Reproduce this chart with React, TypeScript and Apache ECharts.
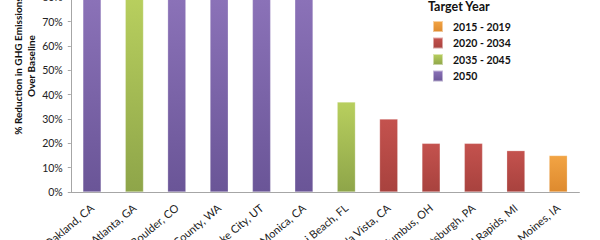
import React, { useEffect, useRef } from "react";
import * as echarts from "echarts";

const cities = [
  "Oakland, CA",
  "Atlanta, GA",
  "Boulder, CO",
  "King County, WA",
  "Salt Lake City, UT",
  "Santa Monica, CA",
  "Miami Beach, FL",
  "Chula Vista, CA",
  "Columbus, OH",
  "Pittsburgh, PA",
  "Grand Rapids, MI",
  "Des Moines, IA",
];
const reduction = [80, 80, 80, 80, 80, 80, 37, 30, 20, 20, 17, 15];
const targetGroup = [
  "2050",
  "2035 - 2045",
  "2050",
  "2050",
  "2050",
  "2050",
  "2035 - 2045",
  "2020 - 2034",
  "2020 - 2034",
  "2020 - 2034",
  "2020 - 2034",
  "2015 - 2019",
];
const groups = ["2015 - 2019", "2020 - 2034", "2035 - 2045", "2050"];
const groupColors: Record<string, [string, string]> = {
  "2015 - 2019": ["#f2a444", "#de8a2e"],
  "2020 - 2034": ["#c4524e", "#a8423e"],
  "2035 - 2045": ["#b8cf5e", "#8ea549"],
  "2050": ["#8b72b8", "#6a5597"],
};
const yTicks = [0, 10, 20, 30, 40, 50, 60, 70, 80, 90, 100];

const FONT = "Lato, 'Open Sans', sans-serif";
const OFF = 60; // chart canvas extends above the visible frame (reference is cropped)

export default function App() {
  const ref = useRef<HTMLDivElement>(null);
  useEffect(() => {
    document.body.style.margin = "0";
    if (!ref.current) return;
    const chart = echarts.init(ref.current, undefined, { renderer: "svg" });
    const grad = (g: string) =>
      new echarts.graphic.LinearGradient(0, 0, 0, 1, [
        { offset: 0, color: groupColors[g][0] },
        { offset: 1, color: groupColors[g][1] },
      ]);
    const series = groups.map((g) => ({
      name: g,
      type: "bar",
      stack: "all",
      barWidth: "43%",
      itemStyle: { color: grad(g), borderColor: "rgba(255,255,255,0.5)", borderWidth: 0.5 },
      data: reduction.map((v, i) => (targetGroup[i] === g ? v : "-")),
    }));
    chart.setOption({
      animation: false,
      grid: {
        left: 70.8,
        right: 20.6,
        top: OFF - 51.3,
        bottom: 48,
        containLabel: false,
        outerBoundsMode: "none",
      },
      legend: {
        orient: "vertical",
        left: 427,
        top: OFF + 15,
        itemWidth: 10,
        itemHeight: 11,
        itemGap: 3.5,
        icon: "rect",
        data: groups,
        textStyle: { fontFamily: FONT, fontWeight: "bold", fontSize: 10.5, color: "#111", padding: [0, 0, 0, 5] },
      },
      graphic: [
        {
          type: "text",
          x: 428,
          y: OFF + 6,
          style: {
            text: "Target Year",
            fontFamily: FONT,
            fontWeight: "bold",
            fontSize: 12.5,
            fill: "#111",
            verticalAlign: "middle",
            align: "left",
          },
        },
        {
          type: "text",
          x: 24,
          y: OFF + 66,
          rotation: Math.PI / 2,
          style: {
            text: "% Reduction in GHG Emissions\nOver Baseline",
            fontFamily: FONT,
            fontWeight: "bold",
            fontSize: 10,
            lineHeight: 13,
            fill: "#111",
            align: "center",
            verticalAlign: "middle",
          },
        },
      ],
      xAxis: {
        type: "category",
        data: cities,
        axisLine: { lineStyle: { color: "#a6a6a6", width: 1 } },
        axisTick: { show: false },
        axisLabel: {
          rotate: 40,
          interval: 0,
          margin: 14,
          fontFamily: FONT,
          fontSize: 11,
          color: "#222",
        },
      },
      yAxis: {
        type: "value",
        min: 0,
        max: 100,
        interval: 10,
        axisLine: { show: true, lineStyle: { color: "#a6a6a6", width: 1 } },
        axisTick: { show: true, length: 3, lineStyle: { color: "#a6a6a6" } },
        splitLine: { show: false },
        axisLabel: {
          margin: 8,
          fontFamily: FONT,
          fontSize: 10.5,
          color: "#222",
          formatter: (v: number) => (yTicks.includes(v) ? v + "%" : ""),
        },
      },
      series,
    });
    return () => chart.dispose();
  }, []);
  return (
    <div style={{ position: "fixed", left: 0, top: 0, width: 600, height: 240, overflow: "hidden", background: "#fff" }}>
      <div ref={ref} style={{ position: "absolute", left: 0, top: -OFF, width: 600, height: 240 + OFF }} />
    </div>
  );
}
